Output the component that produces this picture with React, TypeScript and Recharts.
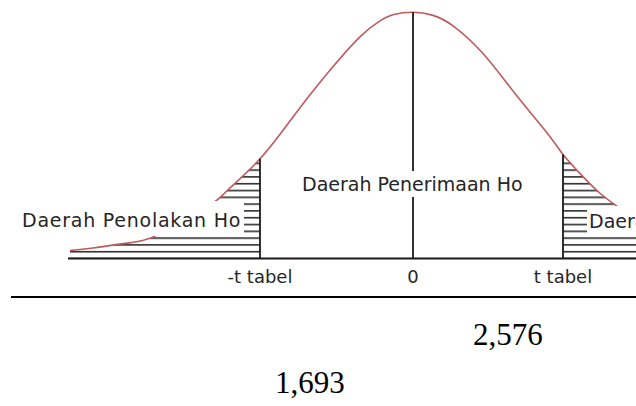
import { ComposedChart, Line, Area, XAxis, YAxis, ReferenceLine } from 'recharts';

// curve (x in t units, y as density)
const curveX = [-3.43, -3.2, -2.86, -2.53, -2.03, -1.86, -1.53, -1.2, -0.86, -0.53, -0.33, -0.2, 0, 0.2, 0.4, 0.7, 1.04, 1.37, 1.5, 1.7, 1.87, 2.05, 2.23];
const curveY = [0.013, 0.017, 0.025, 0.04, 0.087, 0.11, 0.162, 0.23, 0.3, 0.36, 0.386, 0.396, 0.4, 0.395, 0.378, 0.333, 0.264, 0.198, 0.169, 0.133, 0.106, 0.084, 0.066];

const tickValues = [-1.53, 0, 1.5];
const tickLabels = ['-t tabel', '0', 't tabel'];

const rejectLabel = 'Daerah Penolakan Ho';
const acceptLabel = 'Daerah Penerimaan Ho';
const criticalValues = ['2,576', '1,693'];

const curve = curveX.map((x, i) => ({ x, y: curveY[i] }));
const leftTail = curve.filter((d) => d.x <= tickValues[0]);
const rightTail = curve.filter((d) => d.x >= tickValues[2]);
const heightAt = (x: number) => curveY[curveX.indexOf(x)];

const labelFont = '"DejaVu Sans", sans-serif';
const inkColor = '#262626';

function TickLabel(props: any) {
  const { x, y, payload } = props;
  const i = tickValues.indexOf(payload.value);
  return (
    <text x={x} y={y} dy={16.5} textAnchor="middle" fontFamily={labelFont} fontSize={18} fill={inkColor}>
      {tickLabels[i]}
    </text>
  );
}

const boxStyle = {
  position: 'absolute' as const,
  background: '#fff',
  fontFamily: labelFont,
  fontSize: 19,
  lineHeight: '19px',
  color: inkColor,
  whiteSpace: 'nowrap' as const,
  boxSizing: 'content-box' as const,
};

const numberStyle = {
  position: 'absolute' as const,
  fontFamily: '"Liberation Serif", "Times New Roman", serif',
  fontSize: 31,
  lineHeight: '31px',
  color: '#000',
};

export default function App() {
  return (
    <div style={{ position: 'absolute', left: 0, top: 0, width: 636, height: 406, overflow: 'hidden', background: '#fff' }}>
      <svg width={0} height={0} style={{ position: 'absolute' }}>
        <defs>
          <pattern id="hatch" patternUnits="userSpaceOnUse" width={10} height={6.8} y={250.9}>
            <rect x={0} y={0} width={10} height={1.6} fill="#2e2e2e" />
          </pattern>
        </defs>
      </svg>

      <ComposedChart width={636} height={300} margin={{ top: 0, right: 0, bottom: 11.5, left: 68 }}>
        <XAxis
          dataKey="x"
          type="number"
          domain={[-3.45, 2.23]}
          ticks={tickValues}
          interval={0}
          tick={<TickLabel />}
          tickLine={false}
          axisLine={{ stroke: '#1a1a1a', strokeWidth: 2 }}
          height={30}
        />
        <YAxis type="number" domain={[0, 0.42]} hide />
        <Area data={leftTail} dataKey="y" type="natural" fill="url(#hatch)" fillOpacity={1} stroke="none" isAnimationActive={false} />
        <Area data={rightTail} dataKey="y" type="natural" fill="url(#hatch)" fillOpacity={1} stroke="none" isAnimationActive={false} />
        <Line data={curve} dataKey="y" type="natural" stroke="#bf5a5e" strokeWidth={1.6} dot={false} isAnimationActive={false} />
        {tickValues.map((t) => (
          <ReferenceLine
            key={t}
            segment={[{ x: t, y: 0 }, { x: t, y: heightAt(t) }]}
            stroke="#1a1a1a"
            strokeWidth={1.8}
          />
        ))}
      </ComposedChart>

      <div style={{ ...boxStyle, left: 15, top: 201, width: 222, height: 25, paddingLeft: 7, paddingTop: 10, letterSpacing: 0.75 }}>{rejectLabel}</div>
      <div style={{ ...boxStyle, left: 300, top: 171, width: 228, height: 22, paddingLeft: 2, paddingTop: 4 }}>{acceptLabel}</div>
      <div style={{ ...boxStyle, left: 587, top: 206, width: 200, height: 24, paddingLeft: 2, paddingTop: 6 }}>{rejectLabel}</div>

      <div style={{ position: 'absolute', left: 11, top: 296, width: 625, height: 2, background: '#000' }} />
      <div style={{ ...numberStyle, left: 473, top: 319 }}>{criticalValues[0]}</div>
      <div style={{ ...numberStyle, left: 275, top: 367 }}>{criticalValues[1]}</div>
    </div>
  );
}
